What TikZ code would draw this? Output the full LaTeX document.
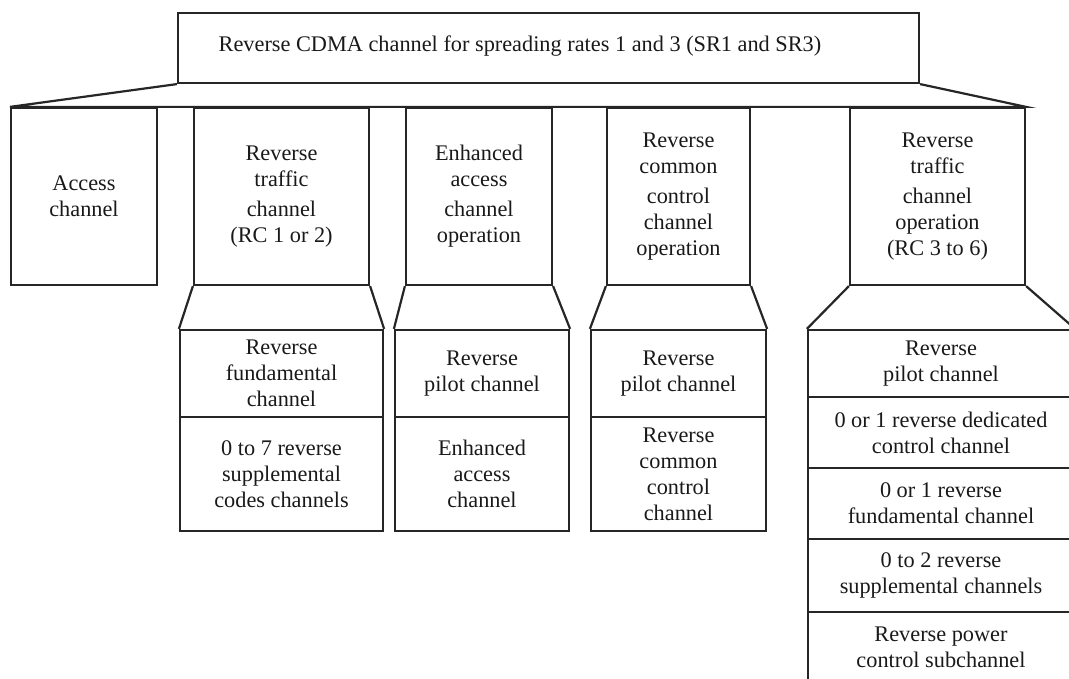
\documentclass[tikz,border=0pt]{standalone}
\usepackage{fontspec}
\setmainfont{Liberation Serif}
\begin{document}
\begin{tikzpicture}[x=1pt, y=-1pt]
    % Stili per i nodi
    \tikzstyle{box}=[rectangle, draw=black!85, line width=2.2pt, text=black!90, align=center, inner sep=0pt, font=\fontsize{22.3}{26}\selectfont]
    \tikzstyle{upper}=[box, minimum height=177pt]
    \tikzstyle{plain}=[text=black!90, align=center, inner sep=0pt, font=\fontsize{22.3}{26}\selectfont]
    \tikzstyle{link}=[draw=black!85, line width=2.2pt, line join=miter]
    \useasboundingbox (0,0) rectangle (1069,679);
    \clip (0,0) rectangle (1069,679);
    % Canale principale
    \node[box, minimum width=741pt, minimum height=70pt] (top) at (548.5,48) {};
    \node[plain] (toptxt) at (520,46) {Reverse CDMA channel for spreading rates 1 and 3 (SR1 and SR3)};
    % Prima riga
    \node[upper, minimum width=146pt] (acc) at (84,196.5) {Access\\channel};
    \node[upper, minimum width=175pt] (rtcA) at (281.5,196.5) {Reverse\\traffic\\[4pt]channel\\(RC 1 or 2)};
    \node[upper, minimum width=146pt] (eac) at (479,196.5) {Enhanced\\access\\[4pt]channel\\operation};
    \node[upper, minimum width=143pt] (rcc) at (678.5,196.5) {Reverse\\common\\[4pt]control\\channel\\operation};
    \node[upper, minimum width=175pt] (rtcB) at (937.5,196.5) {Reverse\\traffic\\[4pt]channel\\operation\\(RC 3 to 6)};
    \draw[link] (top.south west) -- (acc.north west) -- (rtcB.north east) -- (top.south east);
    % Seconda riga
    \node[box, minimum width=203pt, minimum height=87pt] (rtcA1) at (281.5,373.5) {Reverse\\fundamental\\channel};
    \node[box, minimum width=203pt, minimum height=114pt] (rtcA2) at (281.5,474) {0 to 7 reverse\\supplemental\\codes channels};
    \node[box, minimum width=174pt, minimum height=87pt] (eac1) at (482,373.5) {Reverse\\pilot channel};
    \node[box, minimum width=174pt, minimum height=114pt] (eac2) at (482,474) {Enhanced\\access\\channel};
    \node[box, minimum width=175pt, minimum height=87pt] (rcc1) at (678.5,373.5) {Reverse\\pilot channel};
    \node[box, minimum width=175pt, minimum height=114pt] (rcc2) at (678.5,474) {Reverse\\common\\control\\channel};
    \node[box, minimum width=266pt, minimum height=67pt] (rtcB1) at (941,363.5) {Reverse\\pilot channel};
    \node[box, minimum width=266pt, minimum height=71pt] (rtcB2) at (941,432.5) {0 or 1 reverse dedicated\\control channel};
    \node[box, minimum width=266pt, minimum height=71pt] (rtcB3) at (941,503.5) {0 or 1 reverse\\fundamental channel};
    \node[box, minimum width=266pt, minimum height=73pt] (rtcB4) at (941,575.5) {0 to 2 reverse\\supplemental channels};
    \node[box, minimum width=266pt, minimum height=70pt] (rtcB5) at (941,647) {Reverse power\\control subchannel};
    % Raccordi
    \draw[link] (rtcA.south west) -- (rtcA1.north west);
    \draw[link] (rtcA.south east) -- (rtcA1.north east);
    \draw[link] (eac.south west) -- (eac1.north west);
    \draw[link] (eac.south east) -- (eac1.north east);
    \draw[link] (rcc.south west) -- (rcc1.north west);
    \draw[link] (rcc.south east) -- (rcc1.north east);
    \draw[link] (rtcB.south west) -- (rtcB1.north west);
    \draw[link] (rtcB.south east) -- (rtcB1.north east);
\end{tikzpicture}
\end{document}
